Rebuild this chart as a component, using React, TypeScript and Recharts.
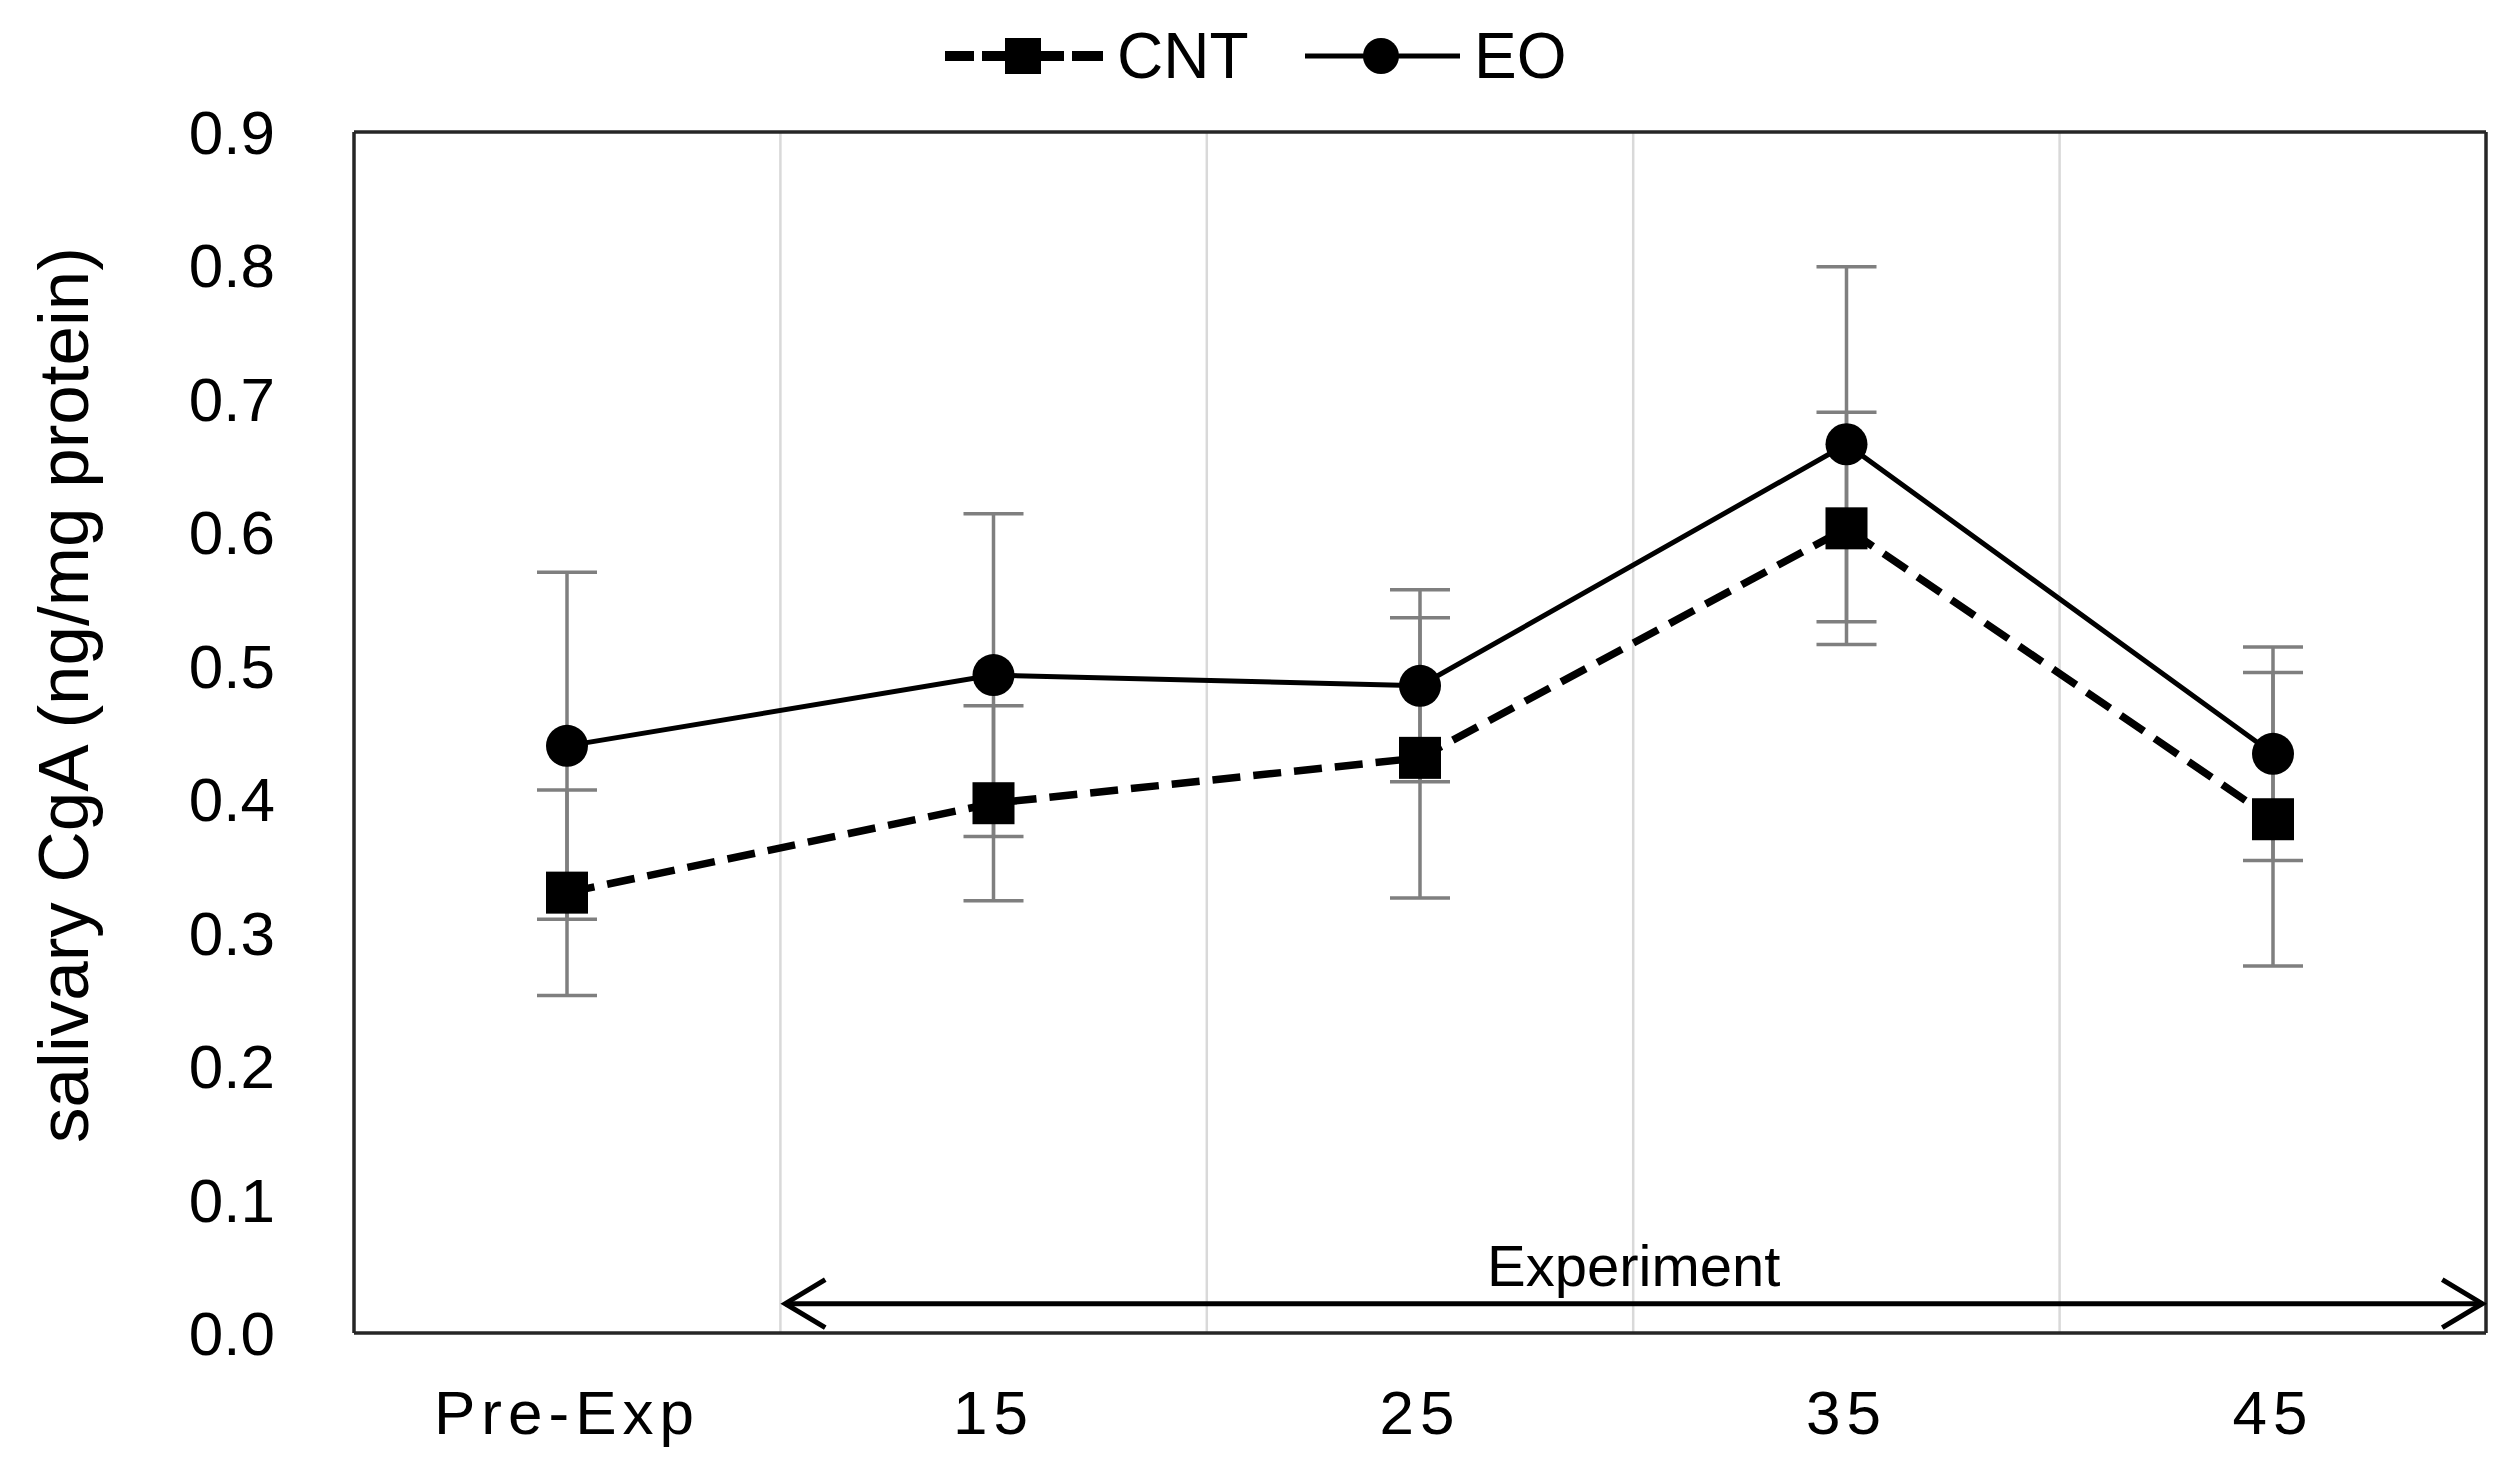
import React from 'react';
import {
  CartesianGrid,
  ErrorBar,
  Line,
  LineChart,
  ReferenceLine,
  XAxis,
  YAxis,
} from 'recharts';

// values (mean and SD)
const categories = ['Pre-Exp', '15', '25', '35', '45'];
const cntMean = [0.33, 0.397, 0.431, 0.603, 0.385];
const cntSd = [0.077, 0.073, 0.105, 0.087, 0.11];
const eoMean = [0.44, 0.493, 0.485, 0.666, 0.434];
const eoSd = [0.13, 0.121, 0.072, 0.133, 0.08];
const yTicks = [0, 0.1, 0.2, 0.3, 0.4, 0.5, 0.6, 0.7, 0.8, 0.9];
// category boundaries (in category units) for the vertical gridlines
const boundaries = [1, 2, 3, 4];

const data = categories.map((name, i) => ({
  name,
  cnt: cntMean[i],
  cntErr: cntSd[i],
  eo: eoMean[i],
  eoErr: eoSd[i],
}));

const W = 2509;
const H = 1465;
const FONT = '"Liberation Sans", Arial, sans-serif';

const SquareDot = (props: any) => {
  const { cx, cy } = props;
  if (cx == null || cy == null) return null;
  return <rect x={cx - 21} y={cy - 21} width={42} height={42} fill="#000" />;
};

// segment runs from "15" to "45"; stretch it half a category each way
const ExperimentArrow = (props: any) => {
  const { x1, y1, x2 } = props;
  const half = (x2 - x1) / 3 / 2;
  const a = x1 - half + 5;
  const b = x2 + half - 4;
  return (
    <g>
      <line x1={a} y1={y1} x2={b} y2={y1} stroke="#000" strokeWidth={5} />
      <polyline
        points={`${a + 40},${y1 - 24} ${a},${y1} ${a + 40},${y1 + 24}`}
        fill="none"
        stroke="#000"
        strokeWidth={5}
      />
      <polyline
        points={`${b - 40},${y1 - 24} ${b},${y1} ${b - 40},${y1 + 24}`}
        fill="none"
        stroke="#000"
        strokeWidth={5}
      />
      <text
        x={(a + b) / 2}
        y={y1 - 18}
        textAnchor="middle"
        fontSize={58}
        fontFamily={FONT}
        fill="#000"
      >
        Experiment
      </text>
    </g>
  );
};

function LegendBar() {
  return (
    <svg
      width={W}
      height={110}
      style={{ position: 'absolute', left: 0, top: 0, pointerEvents: 'none' }}
    >
      <g stroke="#000" strokeWidth={10}>
        <line x1={945} y1={56} x2={974} y2={56} />
        <line x1={982} y1={56} x2={1064} y2={56} />
        <line x1={1072} y1={56} x2={1103} y2={56} />
      </g>
      <rect x={1005} y={38} width={36} height={36} fill="#000" />
      <text x={1117} y={78} fontSize={64} fontFamily={FONT} fill="#000">
        CNT
      </text>
      <line x1={1305} y1={56} x2={1460} y2={56} stroke="#000" strokeWidth={5} />
      <circle cx={1381} cy={56} r={18} fill="#000" />
      <text x={1474} y={78} fontSize={64} fontFamily={FONT} fill="#000">
        EO
      </text>
    </svg>
  );
}

export default function App() {
  return (
    <div style={{ position: 'relative', width: W, height: H, background: '#fff' }}>
      <style>{'body{margin:0}'}</style>
      <LineChart
        width={W}
        height={H}
        data={data}
        margin={{ top: 132, right: 23, bottom: 0, left: 0 }}
      >
        <CartesianGrid
          horizontal={false}
          stroke="#d9d9d9"
          strokeWidth={2.5}
          verticalCoordinatesGenerator={({ offset }: any) =>
            boundaries.map((b) => offset.left + (offset.width * b) / categories.length)
          }
        />
        <CartesianGrid
          stroke="#262626"
          strokeWidth={3.5}
          horizontalCoordinatesGenerator={({ offset }: any) => [
            offset.top,
            offset.top + offset.height,
          ]}
          verticalCoordinatesGenerator={({ offset }: any) => [
            offset.left,
            offset.left + offset.width,
          ]}
        />
        <XAxis
          dataKey="name"
          height={132}
          padding={{ left: 213, right: 213 }}
          axisLine={false}
          tickLine={false}
          tickSize={0}
          tickMargin={57}
          tick={{ fontSize: 62, fill: '#000', fontFamily: FONT, letterSpacing: 6 }}
        />
        <YAxis
          width={354}
          domain={[0, 0.9]}
          ticks={yTicks}
          interval={0}
          axisLine={false}
          tickLine={false}
          tickSize={0}
          tickMargin={79}
          tickFormatter={(v: number) => v.toFixed(1)}
          tick={{ fontSize: 62, fill: '#000', fontFamily: FONT }}
          label={{
            content: () => (
              <text
                x={63}
                y={695}
                transform="rotate(-90 63 695)"
                textAnchor="middle"
                dominantBaseline="central"
                fontSize={71}
                fontFamily={FONT}
                fill="#000"
              >
                salivary CgA (ng/mg protein)
              </text>
            ),
          }}
        />
        <ReferenceLine
          segment={[
            { x: '15', y: 0.022 },
            { x: '45', y: 0.022 },
          ]}
          shape={ExperimentArrow}
        />
        <Line
          dataKey="cnt"
          stroke="#000"
          strokeWidth={7.5}
          strokeDasharray="28 13"
          dot={<SquareDot />}
          activeDot={false}
          isAnimationActive={false}
        >
          <ErrorBar dataKey="cntErr" direction="y" width={30} strokeWidth={3.5} stroke="#7f7f7f" />
        </Line>
        <Line
          dataKey="eo"
          stroke="#000"
          strokeWidth={5}
          dot={{ r: 21, fill: '#000', stroke: 'none' }}
          activeDot={false}
          isAnimationActive={false}
        >
          <ErrorBar dataKey="eoErr" direction="y" width={30} strokeWidth={3.5} stroke="#7f7f7f" />
        </Line>
      </LineChart>
      <LegendBar />
    </div>
  );
}
